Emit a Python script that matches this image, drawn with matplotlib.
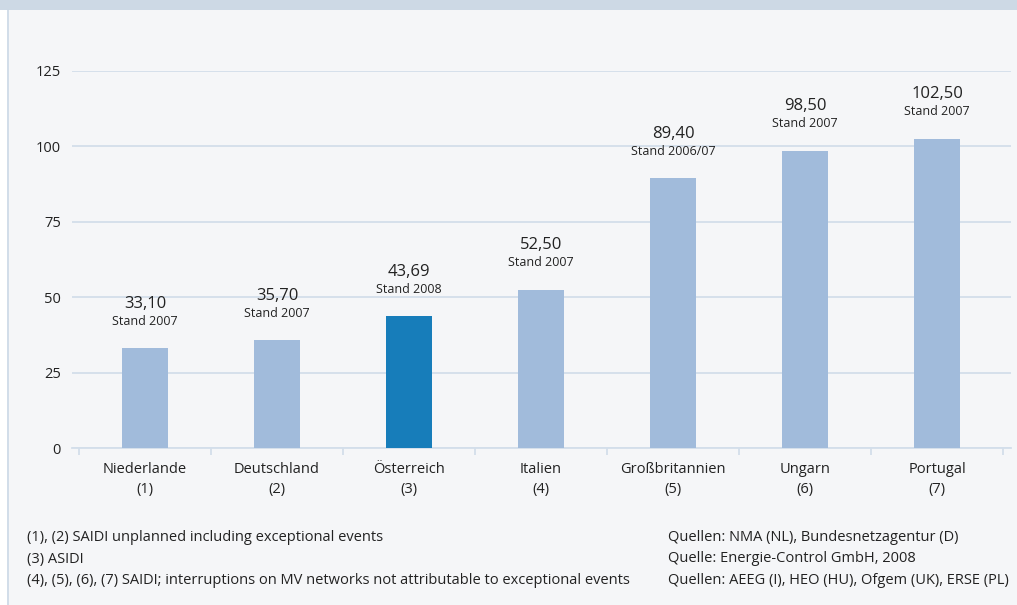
import matplotlib.pyplot as plt
from matplotlib.patches import Rectangle

plt.rcParams['font.family'] = ['Open Sans', 'DejaVu Sans']

## data
countries = ['Niederlande', 'Deutschland', 'Österreich', 'Italien',
             'Großbritannien', 'Ungarn', 'Portugal']
notes = ['(1)', '(2)', '(3)', '(4)', '(5)', '(6)', '(7)']
values = [33.10, 35.70, 43.69, 52.50, 89.40, 98.50, 102.50]
stand = ['Stand 2007', 'Stand 2007', 'Stand 2008', 'Stand 2007',
         'Stand 2006/07', 'Stand 2007', 'Stand 2007']
yticks = [0, 25, 50, 75, 100, 125]
highlight = 'Österreich'

footnotes_left = ['(1), (2) SAIDI unplanned including exceptional events',
                  '(3) ASIDI',
                  '(4), (5), (6), (7) SAIDI; interruptions on MV networks not attributable to exceptional events']
footnotes_right = ['Quellen: NMA (NL), Bundesnetzagentur (D)',
                   'Quelle: Energie-Control GmbH, 2008',
                   'Quellen: AEEG (I), HEO (HU), Ofgem (UK), ERSE (PL)']

W, H = 1017, 605
fig = plt.figure(figsize=(W / 100, H / 100), dpi=100)
fig.patch.set_facecolor('white')

# panel background, top band and left border line
fig.patches.append(Rectangle((7 / W, 0), 1 - 7 / W, 1 - 10 / H, transform=fig.transFigure,
                             facecolor='#f5f6f8', edgecolor='none', zorder=-10))
fig.patches.append(Rectangle((0, 1 - 10 / H), 1, 10 / H, transform=fig.transFigure,
                             facecolor='#cdd9e5', edgecolor='none', zorder=-10))
fig.lines.append(plt.Line2D([7.5 / W, 7.5 / W], [0, 1 - 10 / H], transform=fig.transFigure,
                            color='#cbd8e6', lw=1.2, zorder=-9))

ax = fig.add_axes([72 / W, 1 - 448 / H, (1011 - 72) / W, (448 - 71) / H])
ax.set_facecolor('none')
ax.set_zorder(1)

x = list(range(len(countries)))
colors = ['#177dba' if c == highlight else '#a1bbdb' for c in countries]
ax.bar(x, values, width=0.35, color=colors, zorder=3)

ax.set_xlim(-0.553, 6.56)
ax.set_ylim(0, 125)
ax.set_yticks(yticks)
ax.yaxis.grid(True, color='#d3deea', lw=1.3, zorder=0)
ax.tick_params(axis='y', length=0, pad=8, labelsize=10.5, labelcolor='#222222')

ax.set_xticks(x)
ax.set_xticklabels([c + '\n' + n for c, n in zip(countries, notes)],
                   fontsize=10.5, color='#222222', linespacing=1.45)
ax.tick_params(axis='x', which='major', length=0, pad=10)
ax.set_xticks([i - 0.5 for i in range(len(countries) + 1)], minor=True)
ax.tick_params(axis='x', which='minor', length=5, width=1.3, color='#d3deea', direction='out')

for s in ['top', 'right', 'left']:
    ax.spines[s].set_visible(False)
ax.spines['bottom'].set_color('#d3deea')
ax.spines['bottom'].set_linewidth(1.3)

for xi, v, s in zip(x, values, stand):
    ax.annotate(f'{v:.2f}'.replace('.', ','), (xi, v), xytext=(0, 32),
                textcoords='offset points', ha='center', va='center',
                fontsize=12, color='#222222', annotation_clip=False)
    ax.annotate(s, (xi, v), xytext=(0, 19.5), textcoords='offset points',
                ha='center', va='center', fontsize=9, color='#222222',
                annotation_clip=False)

for i, t in enumerate(footnotes_left):
    fig.text(27 / W, 1 - (537.5 + 21.5 * i) / H, t, fontsize=10.5, va='center', color='#222222')
for i, t in enumerate(footnotes_right):
    fig.text(668 / W, 1 - (537.5 + 21.5 * i) / H, t, fontsize=10.5, va='center', color='#222222')

plt.savefig('out.png', dpi=100)
